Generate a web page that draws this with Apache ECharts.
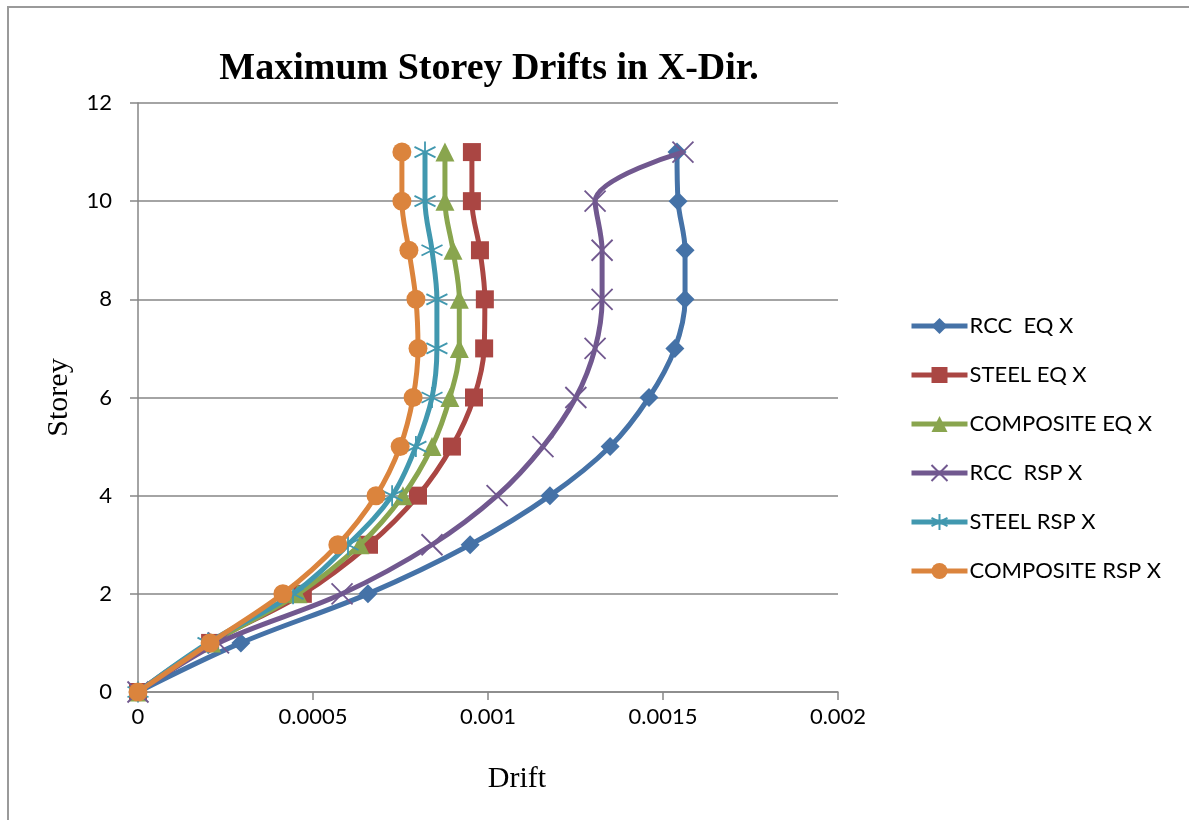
<!DOCTYPE html>
<html>
<head>
<meta charset="utf-8">
<script src="https://cdn.jsdelivr.net/npm/echarts@6/dist/echarts.min.js"></script>
<style>
  html, body { margin: 0; padding: 0; background: #fff; }
  #frame {
    position: absolute; left: 7px; top: 6px; width: 1182px; height: 814px;
    border-left: 2px solid #9a9a9a; border-top: 2px solid #9a9a9a;
  }
  #chart { position: absolute; left: 0; top: 0; width: 1189px; height: 820px; }
</style>
</head>
<body>
<div id="frame"></div>
<div id="chart"></div>
<script>
// storeys 0..11
const storeys = [0, 1, 2, 3, 4, 5, 6, 7, 8, 9, 10, 11]
const rccEq = [0, 0.000294, 0.000657, 0.000949, 0.001177, 0.001349, 0.00146, 0.001534, 0.001563, 0.001563, 0.001543, 0.00154]
const steelEq = [0, 0.000206, 0.000471, 0.00066, 0.0008, 0.000897, 0.00096, 0.000989, 0.000991, 0.000977, 0.000954, 0.000954]
const compEq = [0, 0.00021, 0.000457, 0.000634, 0.000757, 0.00084, 0.000891, 0.000918, 0.000918, 0.0009, 0.000877, 0.000877]
const rccRsp = [0, 0.00023, 0.000583, 0.00084, 0.001026, 0.001157, 0.001251, 0.001306, 0.001326, 0.001326, 0.001306, 0.001557]
const steelRsp = [0, 0.0002, 0.000443, 0.0006, 0.000726, 0.000794, 0.00084, 0.000854, 0.000854, 0.00084, 0.00082, 0.00082]
const compRsp = [0, 0.000206, 0.000414, 0.000571, 0.00068, 0.000749, 0.000786, 0.0008, 0.000794, 0.000774, 0.000754, 0.000754]

const seriesNames = ['RCC  EQ X', 'STEEL EQ X', 'COMPOSITE EQ X', 'RCC  RSP X', 'STEEL RSP X', 'COMPOSITE RSP X']
const seriesData = [rccEq, steelEq, compEq, rccRsp, steelRsp, compRsp]
const colors = ['#4572A7', '#AA4643', '#89A54E', '#71588F', '#4198AF', '#DB843D']

const crossPath = 'path://M0,0L10,10M10,0L0,10'
const starPath = 'path://M5,0L5,10M0.7,2.5L9.3,7.5M9.3,2.5L0.7,7.5'
const symbols = ['diamond', 'rect', 'triangle', crossPath, starPath, 'circle']
const symbolSizes = [19, 18, 19, 21, 21, 19]

const chart = echarts.init(document.getElementById('chart'))

// later series sit on top, like the spreadsheet chart
const series = seriesNames.map((name, i) => {
  const isLineSym = i === 3 || i === 4
  return {
    name, type: 'line', smooth: 0.35,
    data: seriesData[i].map((v, k) => [v, storeys[k]]),
    symbol: symbols[i], symbolSize: symbolSizes[i],
    showAllSymbol: true,
    lineStyle: { color: colors[i], width: 5 },
    itemStyle: isLineSym
      ? { color: colors[i], borderColor: colors[i], borderWidth: 1.8 }
      : { color: colors[i] },
    emphasis: { disabled: true },
    z: 2 + i,
  }
})

chart.setOption({
  animation: false,
  backgroundColor: 'transparent',
  title: {
    text: 'Maximum Storey Drifts in X-Dir.',
    left: 484, top: 45, textAlign: 'center',
    textStyle: { fontFamily: 'Liberation Serif', fontWeight: 'bold', fontSize: 38, color: '#000' },
  },
  grid: { left: 138, right: 351, top: 103, bottom: 128, containLabel: false },
  legend: {
    orient: 'vertical', left: 904, top: 310,
    itemWidth: 56, itemHeight: 20, itemGap: 27,
    lineStyle: { width: 5 },
    textStyle: { fontFamily: 'Lato', fontSize: 22, lineHeight: 22, color: '#000', padding: [0, 0, 0, -3] },
    data: seriesNames,
  },
  xAxis: {
    type: 'value', min: 0, max: 0.002, interval: 0.0005,
    name: 'Drift', nameLocation: 'middle', nameGap: 72,
    nameTextStyle: { fontFamily: 'Liberation Serif', fontSize: 30, color: '#000', padding: [0, 0, 0, 58] },
    axisLine: { show: true, lineStyle: { color: '#868686', width: 1.5 } },
    axisTick: { show: true, length: 8, lineStyle: { color: '#868686', width: 1.5 } },
    axisLabel: { fontFamily: 'Lato', fontSize: 22, color: '#000', margin: 14, formatter: v => String(v) },
    splitLine: { show: false },
  },
  yAxis: {
    type: 'value', min: 0, max: 12, interval: 2,
    name: 'Storey', nameLocation: 'middle', nameGap: 64, nameRotate: 90,
    nameTextStyle: { fontFamily: 'Liberation Serif', fontSize: 30, color: '#000' },
    axisLine: { show: true, lineStyle: { color: '#868686', width: 1.5 } },
    axisTick: { show: true, length: 8, lineStyle: { color: '#868686', width: 1.5 } },
    axisLabel: { fontFamily: 'Lato', fontSize: 22, color: '#000', margin: 26 },
    splitLine: { show: true, lineStyle: { color: '#868686', width: 1.5 } },
  },
  series,
})
</script>
</body>
</html>
